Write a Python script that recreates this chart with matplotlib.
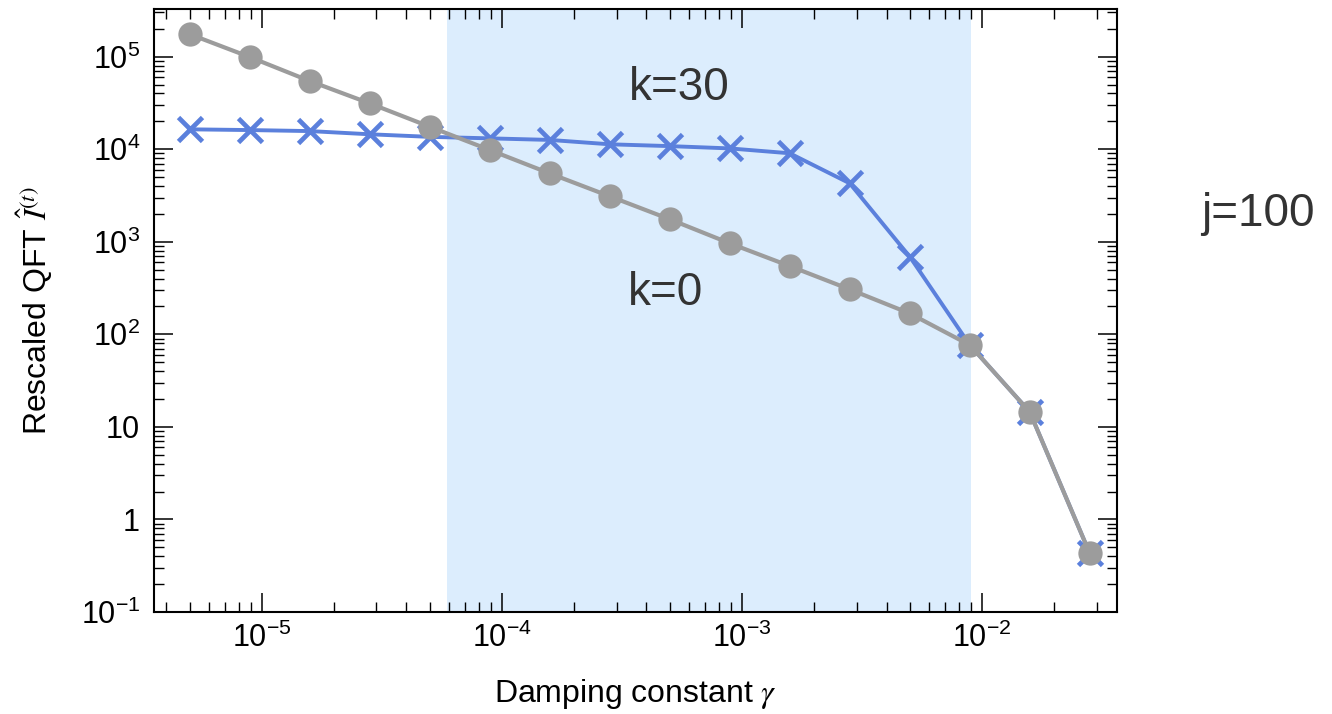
import numpy as np
import matplotlib
matplotlib.use("Agg")
import matplotlib.pyplot as plt
from matplotlib.ticker import LogLocator, NullFormatter, FixedLocator, FixedFormatter

plt.rcParams['font.family'] = ['Liberation Sans', 'DejaVu Sans']
plt.rcParams['mathtext.fontset'] = 'stix'

# 数据
gamma = [5.0e-6, 8.9e-6, 1.58e-5, 2.81e-5, 5.0e-5, 8.9e-5, 1.58e-4, 2.81e-4,
         5.0e-4, 8.9e-4, 1.58e-3, 2.81e-3, 5.0e-3, 8.9e-3, 1.58e-2, 2.81e-2]
qft_k0 = [1.75e5, 9.9e4, 5.46e4, 3.13e4, 1.75e4, 9.8e3, 5.48e3, 3.10e3,
          1.75e3, 961, 546, 306, 168, 76.4, 14.5, 0.43]
qft_k30 = [1.64e4, 1.61e4, 1.57e4, 1.45e4, 1.36e4, 1.31e4, 1.26e4, 1.13e4,
           1.08e4, 1.02e4, 9.04e3, 4.28e3, 689, 76.4, 14.5, 0.43]
shade_range = [5.9e-5, 9.0e-3]

yticks = [1e-1, 1, 10, 1e2, 1e3, 1e4, 1e5]
ytick_labels = [r'$\mathdefault{10^{-1}}$', '1', '10', r'$\mathdefault{10^{2}}$',
                r'$\mathdefault{10^{3}}$', r'$\mathdefault{10^{4}}$', r'$\mathdefault{10^{5}}$']
xticks = [1e-5, 1e-4, 1e-3, 1e-2]
xtick_labels = [r'$\mathdefault{10^{-5}}$', r'$\mathdefault{10^{-4}}$',
                r'$\mathdefault{10^{-3}}$', r'$\mathdefault{10^{-2}}$']

fig = plt.figure(figsize=(13.32, 7.14), dpi=100)
ax = fig.add_axes([0.1156, 0.1429, 0.7230, 0.8441])

ax.axvspan(shade_range[0], shade_range[1], color='#dcedfd', lw=0, zorder=0)

# k=30 蓝色叉，k=0 灰色圆点
ax.plot(gamma, qft_k30, '-', color='#5b80dc', lw=2.8, marker='x',
        markersize=17, mew=3.4, zorder=3)
ax.plot(gamma, qft_k0, '-', color='#9c9c9c', lw=3.0, marker='o',
        markersize=17.5, mec='none', zorder=4)

ax.set_xscale('log')
ax.set_yscale('log')
ax.set_xlim(3.55e-6, 3.65e-2)
ax.set_ylim(0.1, 3.25e5)

ax.xaxis.set_major_locator(FixedLocator(xticks))
ax.xaxis.set_major_formatter(FixedFormatter(xtick_labels))
ax.yaxis.set_major_locator(FixedLocator(yticks))
ax.yaxis.set_major_formatter(FixedFormatter(ytick_labels))
ax.xaxis.set_minor_locator(LogLocator(base=10, subs=np.arange(2, 10), numticks=20))
ax.yaxis.set_minor_locator(LogLocator(base=10, subs=np.arange(2, 10), numticks=20))
ax.xaxis.set_minor_formatter(NullFormatter())
ax.yaxis.set_minor_formatter(NullFormatter())

ax.tick_params(which='both', direction='in', top=True, right=True, color='black')
ax.tick_params(which='major', length=14, width=1.1)
ax.tick_params(which='minor', length=7, width=1.0)
ax.tick_params(axis='y', which='major', labelsize=22, pad=10)
ax.tick_params(axis='x', which='major', labelsize=22, pad=8)
for s in ax.spines.values():
    s.set_linewidth(1.5)

ax.set_xlabel(r'Damping constant $\gamma$', fontsize=23)
ax.set_ylabel(r'Rescaled QFT $\hat{I}^{(t)}$', fontsize=23)
ax.xaxis.set_label_coords(0.5, -0.108)
ax.yaxis.set_label_coords(-0.103, 0.5)

ax.text(5.46e-4, 4.64e4, 'k=30', fontsize=33, color='#333333', ha='center', va='center')
ax.text(4.82e-4, 279, 'k=0', fontsize=33, color='#333333', ha='center', va='center')
fig.text(0.944, 0.70, 'j=100', fontsize=33, color='#333333', ha='center', va='center')

plt.savefig('out.png', dpi=100)
